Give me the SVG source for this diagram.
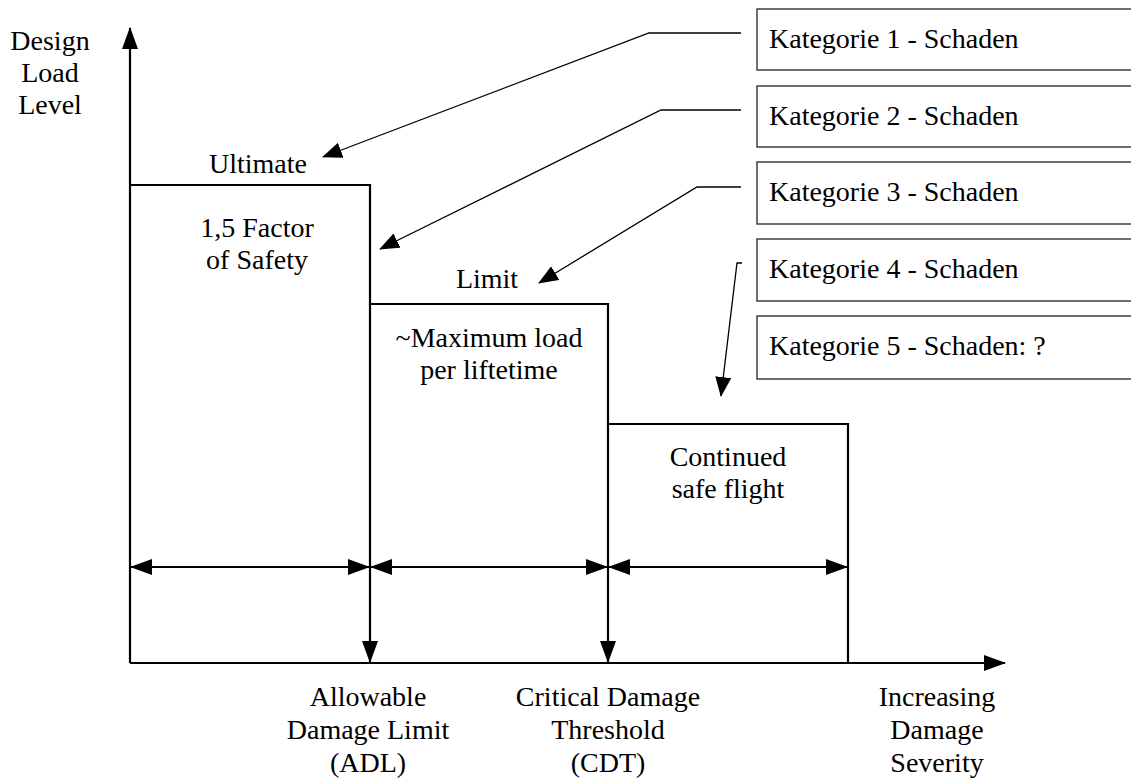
<svg xmlns="http://www.w3.org/2000/svg" width="1131" height="781" viewBox="0 0 1131 781" font-family="'Liberation Serif', 'Times New Roman', 'DejaVu Serif', 'Noto Serif', serif">
<style>
text{font-family:'Liberation Serif','Times New Roman','DejaVu Serif','Noto Serif',serif;font-size:28px;fill:#000}
.c{text-anchor:middle}
.main{fill:none;stroke:#000;stroke-width:2.2}
.thin{fill:none;stroke:#000;stroke-width:1.3}
.box{fill:#fff;stroke:#333;stroke-width:1.4}
</style>
<defs>
<marker id="ah" viewBox="0 0 22 16" markerWidth="22" markerHeight="16" refX="21" refY="8" orient="auto-start-reverse" markerUnits="userSpaceOnUse">
<path d="M0,0 L22,8 L0,16 Z" fill="#000"/>
</marker>
<marker id="ahs" viewBox="0 0 20 16" markerWidth="20" markerHeight="16" refX="19" refY="8" orient="auto" markerUnits="userSpaceOnUse">
<path d="M0,0 L20,8 L0,16 Z" fill="#000"/>
</marker>
</defs>

<g id="axes">
<path class="main" d="M130,663 V28" marker-end="url(#ah)"/>
<path class="main" d="M130,663 H1005" marker-end="url(#ah)"/>
<text class="c" x="50" y="50">Design</text>
<text class="c" x="50" y="82">Load</text>
<text class="c" x="50" y="114">Level</text>
<text class="c" x="937" y="706">Increasing</text>
<text class="c" x="937" y="739">Damage</text>
<text class="c" x="937" y="772">Severity</text>
</g>

<g id="steps">
<path class="main" d="M130,185 H370 V304 H608 V424 H848 V663"/>
</g>

<g id="ultimate">
<text class="c" x="258" y="173">Ultimate</text>
<text class="c" x="257" y="237">1,5 Factor</text>
<text class="c" x="257" y="269">of Safety</text>
</g>

<g id="limit">
<text class="c" x="487" y="288">Limit</text>
<text class="c" x="489" y="347">~Maximum load</text>
<text class="c" x="489" y="379">per liftetime</text>
</g>

<g id="continued">
<text class="c" x="728" y="466">Continued</text>
<text class="c" x="728" y="498">safe flight</text>
</g>

<g id="adl">
<text class="c" x="368" y="706">Allowable</text>
<text class="c" x="368" y="739">Damage Limit</text>
<text class="c" x="368" y="772">(ADL)</text>
</g>

<g id="cdt">
<text class="c" x="608" y="706">Critical Damage</text>
<text class="c" x="608" y="739">Threshold</text>
<text class="c" x="608" y="772">(CDT)</text>
</g>

<g id="boxes">
<g id="k1"><rect class="box" x="757" y="9" width="390" height="61"/><text x="769" y="48">Kategorie 1 - Schaden</text></g>
<g id="k2"><rect class="box" x="757" y="86" width="390" height="61"/><text x="769" y="125">Kategorie 2 - Schaden</text></g>
<g id="k3"><rect class="box" x="757" y="162" width="390" height="62"/><text x="769" y="201">Kategorie 3 - Schaden</text></g>
<g id="k4"><rect class="box" x="757" y="239" width="390" height="62"/><text x="769" y="278">Kategorie 4 - Schaden</text></g>
<g id="k5"><rect class="box" x="757" y="316" width="390" height="63"/><text x="769" y="355">Kategorie 5 - Schaden: ?</text></g>
</g>

<g id="connectors">
<path class="main" d="M370,304 V662" marker-end="url(#ah)"/>
<path class="main" d="M608,424 V662" marker-end="url(#ah)"/>
<path class="main" d="M131,567 H369" marker-start="url(#ah)" marker-end="url(#ah)"/>
<path class="main" d="M371,567 H607" marker-start="url(#ah)" marker-end="url(#ah)"/>
<path class="main" d="M609,567 H847" marker-start="url(#ah)" marker-end="url(#ah)"/>
<path class="thin" d="M741,33 H649 L323,157" marker-end="url(#ahs)"/>
<path class="thin" d="M741,110 H661 L380,249" marker-end="url(#ahs)"/>
<path class="thin" d="M741,187 H697 L539,283" marker-end="url(#ahs)"/>
<path class="thin" d="M742,263 H737 L721,396" marker-end="url(#ahs)"/>
</g>
</svg>
